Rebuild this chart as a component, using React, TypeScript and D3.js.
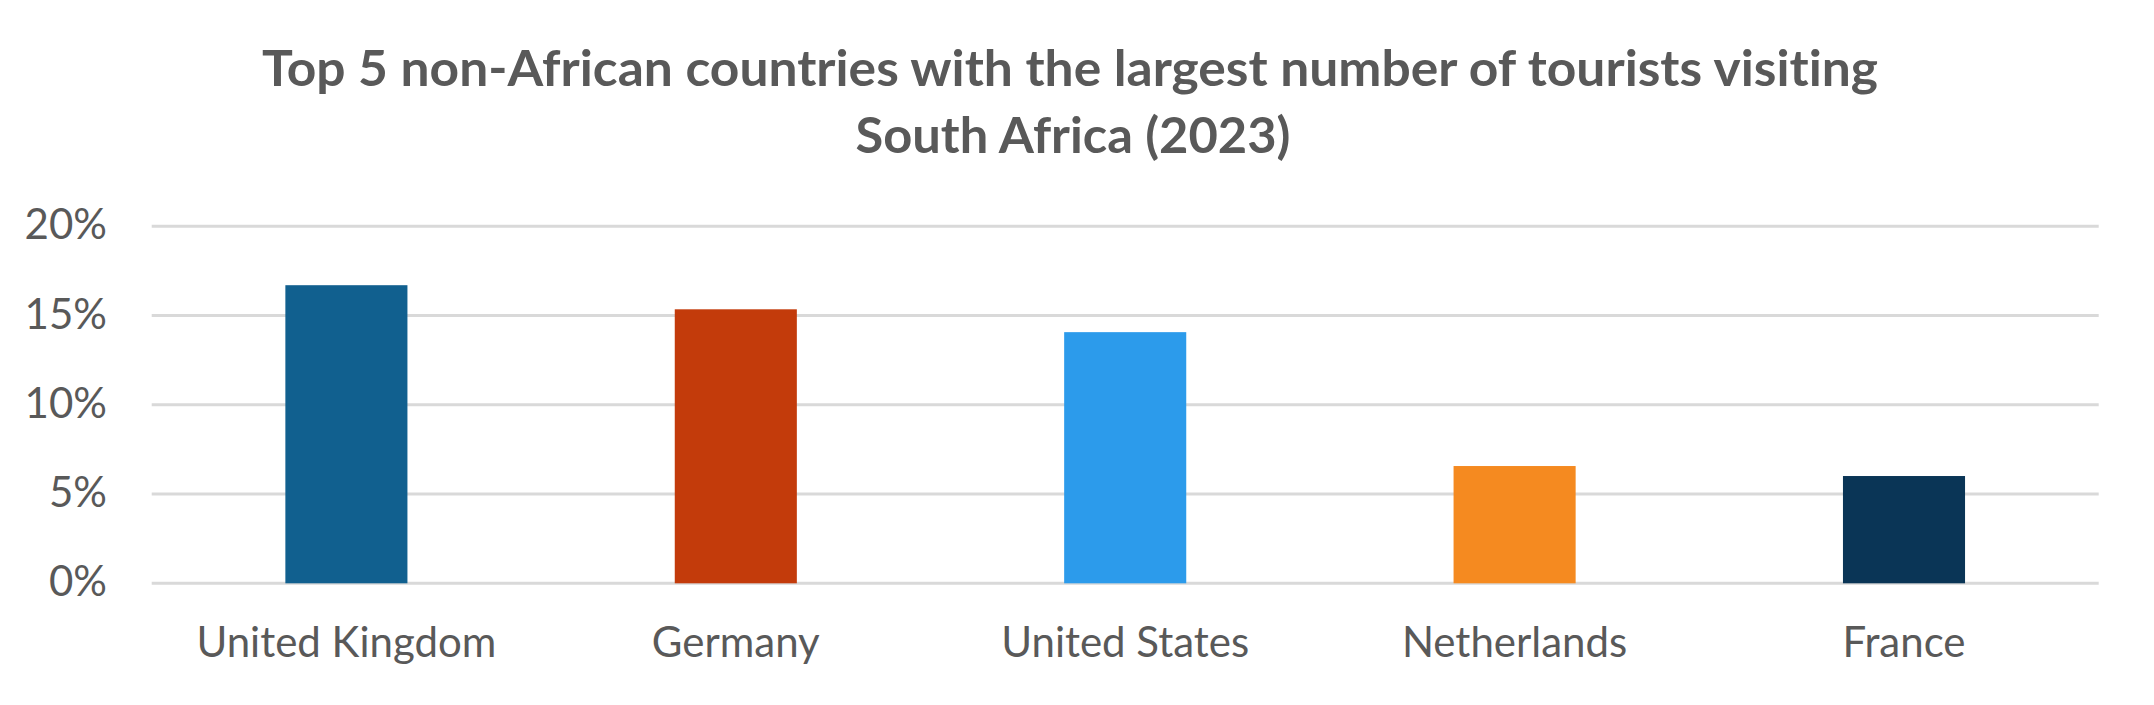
import React from "react";
import * as d3 from "d3";

const categories = ["United Kingdom", "Germany", "United States", "Netherlands", "France"];
const values = [16.7, 15.35, 14.07, 6.57, 6.01];
const barColors = ["#11608F", "#C33B0B", "#2C9BEB", "#F58A20", "#0A3556"];
const yTicks = [0, 5, 10, 15, 20];
const titleLines = [
  "Top 5 non-African countries with the largest number of tourists visiting",
  "South Africa (2023)",
];

const W = 2154;
const H = 705;
const left = 151.7;
const right = 2098.7;
const top = 226.3;
const bottom = 583.3;

export default function App() {
  const x = d3.scaleBand<string>().domain(categories).range([left, right]).padding(0);
  const y = d3.scaleLinear().domain([0, 20]).range([bottom, top]);
  const barW = x.step() * 0.3135;
  const font = "Lato, 'Open Sans', sans-serif";
  const textColor = "#595959";
  const noLig = { fontVariantLigatures: "none" as const, fontFeatureSettings: "'liga' 0, 'clig' 0" };

  return (
    <svg width={W} height={H} style={{ position: "absolute", left: 0, top: 0, background: "#fff" }}>
      <rect x={0} y={0} width={W} height={H} fill="#fff" />
      <text x={1070} y={86} textAnchor="middle" fontFamily={font} fontWeight={700} fontSize={50}
        fill={textColor} textLength={1616} lengthAdjust="spacingAndGlyphs" style={noLig}>{titleLines[0]}</text>
      <text x={1073} y={153} textAnchor="middle" fontFamily={font} fontWeight={700} fontSize={50}
        fill={textColor} textLength={435} lengthAdjust="spacingAndGlyphs" style={noLig}>{titleLines[1]}</text>
      {yTicks.map((t) => (
        <g key={t}>
          <line x1={left} x2={right} y1={y(t)} y2={y(t)} stroke="#D9D9D9" strokeWidth={3} />
          <text x={107} y={y(t) + 13} textAnchor="end" fontFamily={font} fontSize={42} fill={textColor}>
            {t}%
          </text>
        </g>
      ))}
      {categories.map((c, i) => {
        const cx = (x(c) as number) + x.bandwidth() / 2;
        return (
          <g key={c}>
            <rect x={cx - barW / 2} y={y(values[i])} width={barW} height={y(0) - y(values[i])} fill={barColors[i]} />
            <text x={cx} y={657} textAnchor="middle" fontFamily={font} fontSize={42} fill={textColor} style={noLig}>
              {c}
            </text>
          </g>
        );
      })}
    </svg>
  );
}
